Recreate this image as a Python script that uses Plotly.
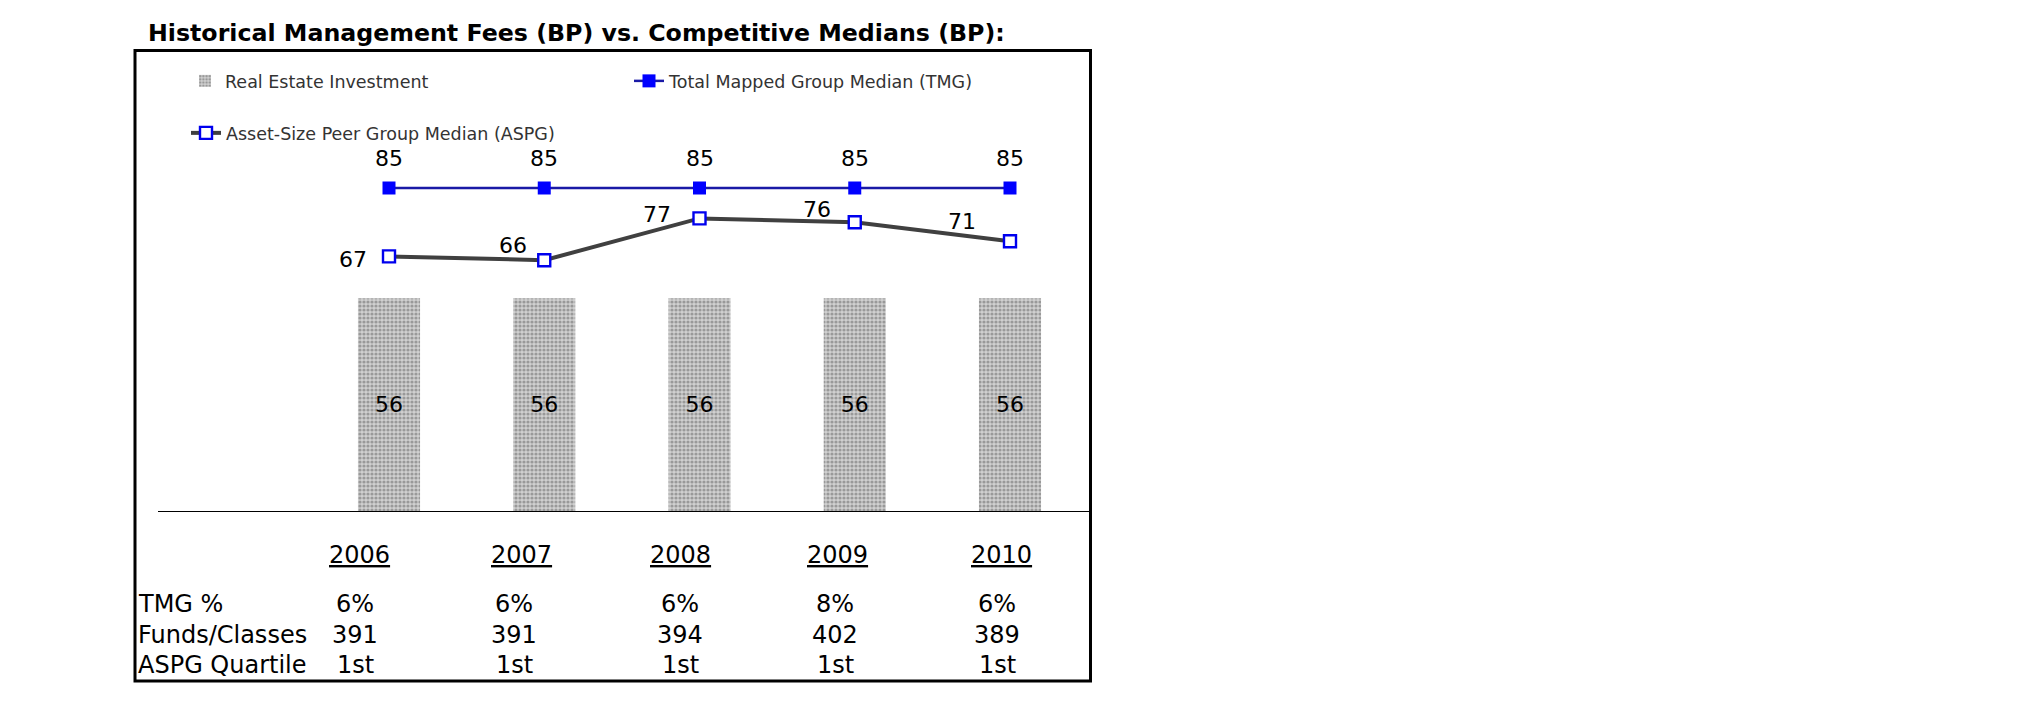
import plotly.graph_objects as go

# ---------------- data ----------------
years = ["2006", "2007", "2008", "2009", "2010"]
real_estate = [56, 56, 56, 56, 56]
tmg_median = [85, 85, 85, 85, 85]
aspg_median = [67, 66, 77, 76, 71]
tmg_pct = ["6%", "6%", "6%", "8%", "6%"]
funds_classes = [391, 391, 394, 402, 389]
aspg_quartile = ["1st", "1st", "1st", "1st", "1st"]
row_labels = ["TMG %", "Funds/Classes", "ASPG Quartile"]
title_text = "Historical Management Fees (BP) vs. Competitive Medians (BP):"

# ---------------- layout geometry (page pixels) ----------------
OFF = 8                      # default body margin of the html page
FW, FH = 2025 - 2 * OFF, 717 - 2 * OFF
L, R, T, B = 158, 1090, 100, 511   # plot area in page pixels
W, H = R - L, B - T
PXU = 3.8  # pixels per unit on the value axis


def px(x):
    return (x - L) / W


def py(y):
    return (B - y) / H


FONT = "DejaVu Sans"
x_idx = list(range(len(years)))

fig = go.Figure()

fig.add_trace(go.Bar(
    x=x_idx, y=real_estate, name="Real Estate Investment",
    width=0.4,
    marker=dict(color="#b8b8b8",
                pattern=dict(shape=".", fgcolor="#626262", bgcolor="#d0d0d0",
                             size=4, solidity=0.5),
                line=dict(width=0)),
    text=[str(v) for v in real_estate], textposition="inside",
    insidetextanchor="middle", textangle=0,
    insidetextfont=dict(family=FONT, size=22, color="black"),
    legend="legend",
))

fig.add_trace(go.Scatter(
    x=x_idx, y=tmg_median, name="Total Mapped Group Median (TMG)",
    mode="lines+markers",
    line=dict(color="#1a1aa6", width=2.5),
    marker=dict(symbol="square", size=13, color="#0000ff",
                line=dict(width=0)),
    legend="legend",
))

fig.add_trace(go.Scatter(
    x=x_idx, y=aspg_median, name="Asset-Size Peer Group Median (ASPG)",
    mode="lines+markers",
    line=dict(color="#404040", width=4),
    marker=dict(symbol="square", size=12, color="white",
                line=dict(width=2.4, color="#0000ee")),
    legend="legend2",
))

annotations = []
for i, v in enumerate(tmg_median):
    annotations.append(dict(x=i, y=v, xref="x", yref="y", text=str(v),
                            showarrow=False, yshift=30,
                            font=dict(family=FONT, size=22, color="black")))
aspg_offsets = [(-36, -3), (-31, 15), (-43, 4), (-38, 13), (-48, 20)]
for i, v in enumerate(aspg_median):
    dx, dy = aspg_offsets[i]
    annotations.append(dict(x=i, y=v, xref="x", yref="y", text=str(v),
                            showarrow=False, xshift=dx, yshift=dy,
                            font=dict(family=FONT, size=22, color="black")))

annotations.append(dict(x=px(146), y=py(33), xref="paper", yref="paper",
                        xanchor="left", yanchor="middle", text=title_text,
                        showarrow=False,
                        font=dict(family=FONT, size=23.7, color="black",
                                  weight="bold")))

year_cx = [359, 521, 680, 837, 1001]
val_cx = [355, 514, 680, 835, 997]
TFS = 24
for i, yr in enumerate(years):
    annotations.append(dict(x=px(year_cx[i]), y=py(555), xref="paper",
                            yref="paper", text="<u>" + yr + "</u>",
                            showarrow=False, xanchor="center", yanchor="middle",
                            font=dict(family=FONT, size=TFS, color="black")))
rows_y = [604, 635, 665]
for r, lab in enumerate(row_labels):
    annotations.append(dict(x=px(136), y=py(rows_y[r]), xref="paper",
                            yref="paper", text=lab, showarrow=False,
                            xanchor="left", yanchor="middle",
                            font=dict(family=FONT, size=TFS, color="black")))
table_rows = [tmg_pct, [str(v) for v in funds_classes], aspg_quartile]
for r, row in enumerate(table_rows):
    for i, val in enumerate(row):
        annotations.append(dict(x=px(val_cx[i]), y=py(rows_y[r]), xref="paper",
                                yref="paper", text=val, showarrow=False,
                                xanchor="center", yanchor="middle",
                                font=dict(family=FONT, size=TFS, color="black")))

shapes = [dict(type="rect", xref="paper", yref="paper",
               x0=px(135), x1=px(1090.5), y0=py(681), y1=py(50.5),
               line=dict(color="black", width=3), fillcolor="rgba(0,0,0,0)",
               layer="above")]

fig.update_layout(
    width=FW, height=FH,
    margin=dict(l=L - OFF, r=FW - (R - OFF), t=T - OFF, b=FH - (B - OFF), pad=0),
    paper_bgcolor="white", plot_bgcolor="white",
    showlegend=True,
    xaxis=dict(range=[-(389 - L) / 155.25, 4 + (R - 1010) / 155.25],
               showticklabels=False, ticks="", showgrid=False, zeroline=False,
               showline=True, linecolor="black", linewidth=1, fixedrange=True),
    yaxis=dict(range=[0, H / PXU], visible=False, showgrid=False,
               zeroline=False, fixedrange=True),
    legend=dict(orientation="h", x=px(185), y=py(81), xanchor="left",
                yanchor="middle", entrywidth=399, entrywidthmode="pixels",
                bgcolor="rgba(0,0,0,0)", borderwidth=0,
                font=dict(family=FONT, size=17.5, color="#333333")),
    legend2=dict(orientation="h", x=px(186), y=py(133), xanchor="left",
                 yanchor="middle", bgcolor="rgba(0,0,0,0)", borderwidth=0,
                 font=dict(family=FONT, size=17.5, color="#333333")),
    annotations=annotations,
    shapes=shapes,
)

fig.write_html("out.html")
